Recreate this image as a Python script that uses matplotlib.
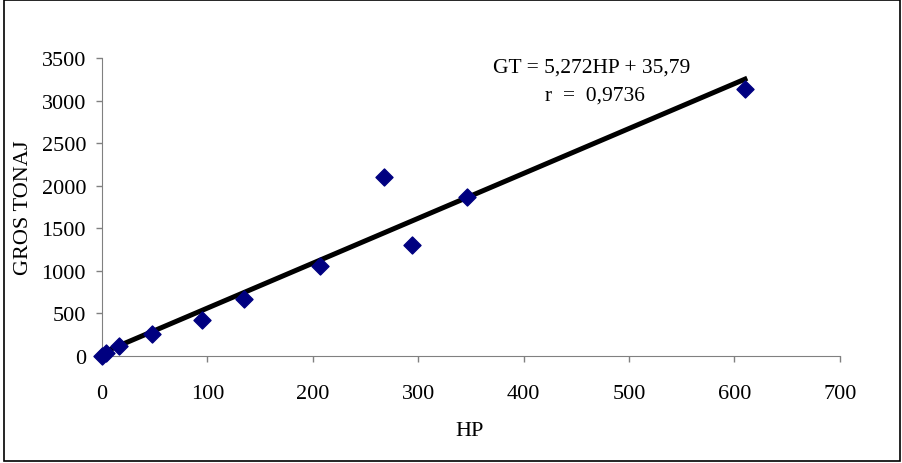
import numpy as np
import matplotlib
matplotlib.use('Agg')
import matplotlib.pyplot as plt
from matplotlib.patches import Rectangle

plt.rcParams['font.family'] = 'Liberation Serif'

# data
hp = [0, 4, 16, 47, 95, 135, 207, 268, 294, 346, 610]
gt = [0, 30, 121, 258, 427, 670, 1061, 2107, 1304, 1872, 3138]
slope = 5.272
intercept = 35.79
eq_text = 'GT = 5,272HP + 35,79'
r_text = 'r  =  0,9736'

fig = plt.figure(figsize=(9.03, 4.64), dpi=100)
ax = fig.add_axes([0.113, 0.2306, 0.817, 0.6422])

# trend line
x_fit = np.array([min(hp), max(hp)])
ax.plot(x_fit, slope * x_fit + intercept, color='black', linewidth=3.6, zorder=2)

# data points
ax.scatter(hp, gt, marker='D', s=75, color='#000080', zorder=3, clip_on=False)

ax.set_xlim(0, 700)
ax.set_ylim(0, 3500)
ax.set_xticks(range(0, 701, 100))
ax.set_yticks(range(0, 3501, 500))
ax.tick_params(labelsize=16, direction='out', length=4, color='#808080', width=1)
ax.tick_params(axis='x', pad=16)
ax.tick_params(axis='y', pad=7.5)

for side in ['top', 'right']:
    ax.spines[side].set_visible(False)
for side in ['left', 'bottom']:
    ax.spines[side].set_color('#808080')

ax.set_xlabel('HP', fontsize=16, va='center')
ax.set_ylabel('GROS TONAJ', fontsize=16, va='center')
ax.xaxis.set_label_coords(0.498, -0.25)
ax.yaxis.set_label_coords(-0.106, 0.5)

ax.text(465, 3394, eq_text, fontsize=15.5, ha='center', va='center')
ax.text(468, 3060, r_text, fontsize=15.5, ha='center', va='center')

# frame round the whole chart
fig.patches.append(Rectangle((0.004, 0.004), 0.993, 0.994, transform=fig.transFigure,
                             fill=False, edgecolor='black', linewidth=1.2))

fig.savefig('out.png', dpi=100)
